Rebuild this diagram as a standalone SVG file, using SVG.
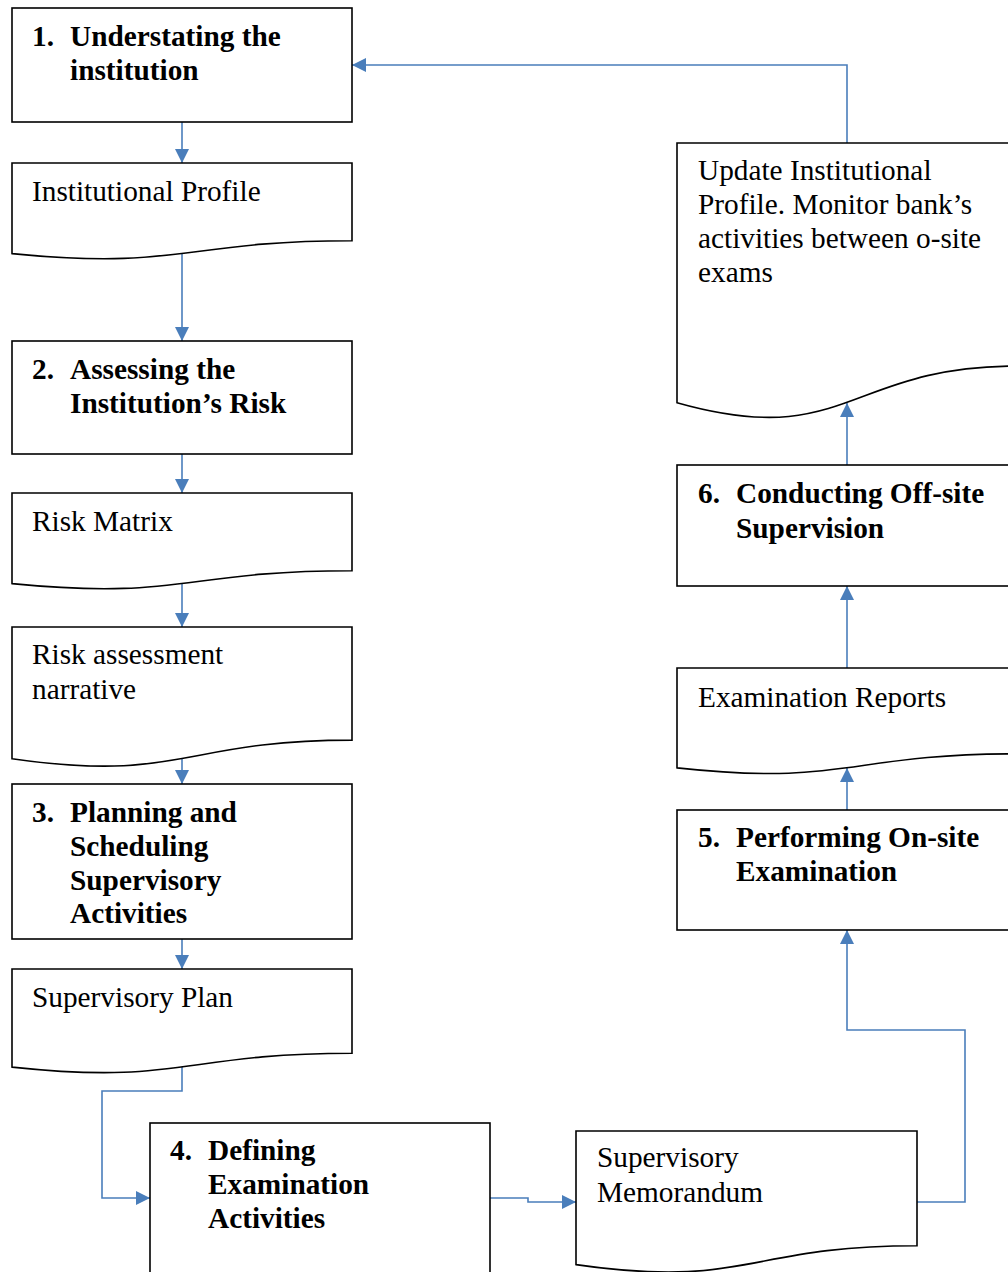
<svg xmlns="http://www.w3.org/2000/svg" width="1008" height="1272" viewBox="0 0 1008 1272">
<style>
.box{fill:#fff;stroke:#000;stroke-width:1.6}
.con{fill:none;stroke:#4a7ebb;stroke-width:1.6}
.t{font-family:"Liberation Serif","Times New Roman",serif;font-size:29.3px;fill:#000}
.b{font-weight:bold}
</style>
<defs>
<marker id="ah" markerUnits="userSpaceOnUse" markerWidth="14" markerHeight="14" refX="14" refY="7" orient="auto">
<path d="M0,0 L14,7 L0,14 Z" fill="#4a7ebb"/>
</marker>
</defs>
<rect width="1008" height="1272" fill="#fff"/>

<g id="connectors">
<path class="con" d="M182,122 V163" marker-end="url(#ah)"/>
<path class="con" d="M182,254 V341" marker-end="url(#ah)"/>
<path class="con" d="M182,454 V493" marker-end="url(#ah)"/>
<path class="con" d="M182,584 V627" marker-end="url(#ah)"/>
<path class="con" d="M182,758 V784" marker-end="url(#ah)"/>
<path class="con" d="M182,939 V969" marker-end="url(#ah)"/>
<path class="con" d="M182,1067 V1091 H102 V1198 H150" marker-end="url(#ah)"/>
<path class="con" d="M490,1198 H528 V1202 H576" marker-end="url(#ah)"/>
<path class="con" d="M917,1202 H965 V1030 H847 V930" marker-end="url(#ah)"/>
<path class="con" d="M847,810 V768" marker-end="url(#ah)"/>
<path class="con" d="M847,668 V586" marker-end="url(#ah)"/>
<path class="con" d="M847,465 V403" marker-end="url(#ah)"/>
<path class="con" d="M847,143 V65 H352" marker-end="url(#ah)"/>
</g>

<g id="n1">
<rect class="box" x="12" y="8" width="340" height="114"/>
<text class="t b" x="32" y="46">1.</text>
<text class="t b" x="70" y="46">Understating the</text>
<text class="t b" x="70" y="80">institution</text>
</g>

<g id="d-profile">
<path class="box" d="M12,163 H352 V240.8 C182,240.8 182,270.4 12,253.6 Z"/>
<text class="t" x="32" y="201">Institutional Profile</text>
</g>

<g id="n2">
<rect class="box" x="12" y="341" width="340" height="113"/>
<text class="t b" x="32" y="379">2.</text>
<text class="t b" x="70" y="379">Assessing the</text>
<text class="t b" x="70" y="413">Institution’s Risk</text>
</g>

<g id="d-matrix">
<path class="box" d="M12,493 H352 V570.8 C182,570.8 182,600.4 12,583.6 Z"/>
<text class="t" x="32" y="531">Risk Matrix</text>
</g>

<g id="d-narrative">
<path class="box" d="M12,627 H352 V740.1 C182,740.1 182,783.1 12,758.7 Z"/>
<text class="t" x="32" y="664">Risk assessment</text>
<text class="t" x="32" y="699">narrative</text>
</g>

<g id="n3">
<rect class="box" x="12" y="784" width="340" height="155"/>
<text class="t b" x="32" y="822">3.</text>
<text class="t b" x="70" y="822">Planning and</text>
<text class="t b" x="70" y="856">Scheduling</text>
<text class="t b" x="70" y="890">Supervisory</text>
<text class="t b" x="70" y="923">Activities</text>
</g>

<g id="d-plan">
<path class="box" d="M12,969 H352 V1053.2 C182,1053.2 182,1085.2 12,1067.1 Z"/>
<text class="t" x="32" y="1007">Supervisory Plan</text>
</g>

<g id="n4">
<rect class="box" x="150" y="1123" width="340" height="170"/>
<text class="t b" x="170" y="1160">4.</text>
<text class="t b" x="208" y="1160">Defining</text>
<text class="t b" x="208" y="1194">Examination</text>
<text class="t b" x="208" y="1228">Activities</text>
</g>

<g id="d-memo">
<path class="box" d="M576,1131 H917 V1245.7 C746.5,1245.7 746.5,1289.3 576,1264.6 Z"/>
<text class="t" x="597" y="1167">Supervisory</text>
<text class="t" x="597" y="1202">Memorandum</text>
</g>

<g id="n5">
<rect class="box" x="677" y="810" width="340" height="120"/>
<text class="t b" x="698" y="847">5.</text>
<text class="t b" x="736" y="847">Performing On-site</text>
<text class="t b" x="736" y="881">Examination</text>
</g>

<g id="d-reports">
<path class="box" d="M677,668 H1017 V753.8 C847,753.8 847,786.4 677,767.9 Z"/>
<text class="t" x="698" y="707">Examination Reports</text>
</g>

<g id="n6">
<rect class="box" x="677" y="465" width="340" height="121"/>
<text class="t b" x="698" y="503">6.</text>
<text class="t b" x="736" y="503">Conducting Off-site</text>
<text class="t b" x="736" y="538">Supervision</text>
</g>

<g id="d-update">
<path class="box" d="M677,143 H1017 V366 C847,366 847,450.7 677,402.7 Z"/>
<text class="t" x="698" y="180">Update Institutional</text>
<text class="t" x="698" y="214">Profile. Monitor bank’s</text>
<text class="t" x="698" y="248">activities between o-site</text>
<text class="t" x="698" y="282">exams</text>
</g>
</svg>
